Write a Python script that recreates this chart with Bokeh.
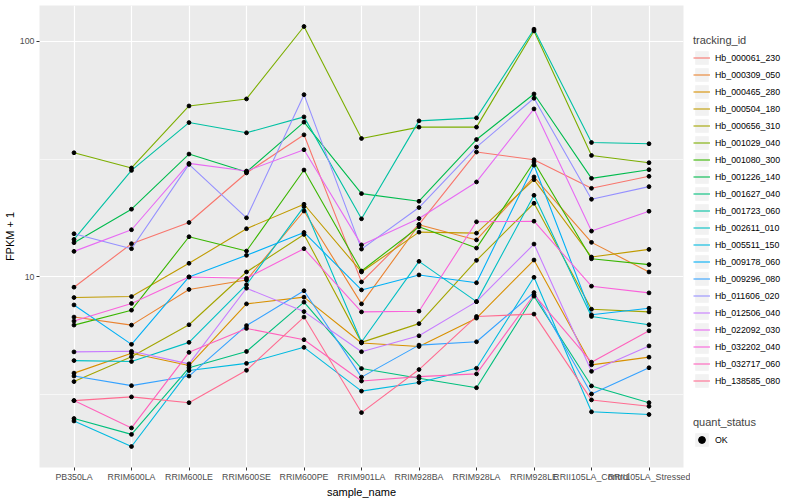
import numpy as np
from bokeh.plotting import figure
from bokeh.layouts import row
from bokeh.models import (ColumnDataSource, FactorRange, Range1d, FixedTicker,
                          Legend, LegendItem)
from bokeh.embed import file_html
from bokeh.resources import INLINE

samples = ["PB350LA", "RRIM600LA", "RRIM600LE", "RRIM600SE", "RRIM600PE",
           "RRIM901LA", "RRIM928BA", "RRIM928LA", "RRIM928LE",
           "RRII105LA_Control", "RRII105LA_Stressed"]

tracking_ids = ["Hb_000061_230", "Hb_000309_050", "Hb_000465_280", "Hb_000504_180",
                "Hb_000656_310", "Hb_001029_040", "Hb_001080_300", "Hb_001226_140",
                "Hb_001627_040", "Hb_001723_060", "Hb_002611_010", "Hb_005511_150",
                "Hb_009178_060", "Hb_009296_080", "Hb_011606_020", "Hb_012506_040",
                "Hb_022092_030", "Hb_032202_040", "Hb_032717_060", "Hb_138585_080"]

# FPKM + 1 per sample
hb_000061_230 = [9.05, 13.84, 17.02, 27.61, 40.07, 9.53, 16.70, 33.87, 31.42, 23.77, 26.72]
hb_000309_050 = [6.76, 6.25, 8.85, 9.71, 19.04, 7.69, 16.65, 14.36, 26.56, 14.02, 10.50]
hb_000465_280 = [3.91, 4.75, 4.21, 7.69, 8.21, 5.25, 5.07, 6.69, 11.80, 4.24, 4.57]
hb_000504_180 = [8.18, 8.26, 11.43, 16.02, 20.34, 10.50, 15.49, 15.34, 25.87, 12.15, 13.09]
hb_000656_310 = [3.60, 4.59, 6.27, 10.50, 15.15, 5.28, 6.34, 11.76, 20.54, 7.30, 7.11]
hb_001029_040 = [33.63, 28.99, 53.12, 56.89, 115.4, 38.66, 43.19, 43.19, 110.5, 32.76, 30.51]
hb_001080_300 = [6.25, 7.23, 14.81, 12.88, 28.42, 10.60, 16.33, 13.26, 30.73, 11.94, 11.28]
hb_001226_140 = [13.98, 19.38, 33.21, 27.87, 45.35, 22.57, 20.95, 38.28, 59.72, 26.20, 28.51]
hb_001627_040 = [2.51, 2.15, 4.12, 4.83, 7.82, 4.09, 3.72, 3.39, 8.29, 3.45, 2.93]
hb_001723_060 = [14.43, 28.31, 45.17, 40.87, 47.74, 17.65, 45.92, 47.28, 112.4, 37.18, 36.72]
hb_002611_010 = [4.42, 4.38, 5.28, 9.27, 19.89, 5.30, 11.65, 7.86, 22.20, 6.80, 6.27]
hb_005511_150 = [2.45, 1.91, 4.01, 4.30, 5.03, 3.28, 3.57, 4.10, 9.97, 2.68, 2.61]
hb_009178_060 = [7.61, 5.18, 10.00, 12.35, 15.45, 8.81, 10.20, 9.45, 29.79, 6.91, 7.37]
hb_009296_080 = [3.80, 3.46, 3.80, 6.22, 8.74, 3.76, 5.14, 5.31, 8.59, 3.19, 4.12]
hb_011606_020 = [15.25, 13.18, 30.02, 17.82, 59.31, 13.13, 19.70, 35.56, 57.27, 21.36, 24.16]
hb_012506_040 = [4.81, 4.84, 4.28, 8.96, 7.13, 4.82, 5.63, 7.86, 13.79, 3.98, 5.10]
hb_022092_030 = [12.84, 15.86, 30.31, 28.14, 34.63, 13.68, 17.70, 25.29, 51.60, 15.65, 19.00]
hb_032202_040 = [6.50, 7.72, 10.00, 9.87, 13.18, 7.11, 7.16, 17.14, 17.24, 9.14, 8.56]
hb_032717_060 = [2.99, 2.29, 4.79, 6.05, 5.42, 3.62, 3.78, 3.88, 8.41, 4.35, 5.91]
hb_138585_080 = [2.99, 3.10, 2.93, 4.02, 6.76, 2.66, 4.05, 6.80, 6.96, 3.01, 2.83]

series = [hb_000061_230, hb_000309_050, hb_000465_280, hb_000504_180, hb_000656_310,
          hb_001029_040, hb_001080_300, hb_001226_140, hb_001627_040, hb_001723_060,
          hb_002611_010, hb_005511_150, hb_009178_060, hb_009296_080, hb_011606_020,
          hb_012506_040, hb_022092_030, hb_032202_040, hb_032717_060, hb_138585_080]

colors = ["#F8766D", "#EA8331", "#D89000", "#C09B00", "#A3A500", "#7CAE00", "#39B600",
          "#00BB4E", "#00BF7D", "#00C1A3", "#00BFC4", "#00BAE0", "#00B0F6", "#35A2FF",
          "#9590FF", "#C77CFF", "#E76BF3", "#FA62DB", "#FF62BC", "#FF6C91"]

quant_status = "OK"

FONT = "Liberation Sans"
H = 500

allv = np.concatenate([np.array(s) for s in series])
llo, lhi = np.log10(allv.min()), np.log10(allv.max())
pad = 0.05 * (lhi - llo)

p = figure(width=690, height=H,
           x_range=FactorRange(factors=samples, range_padding=0.1,
                               range_padding_units="absolute"),
           y_range=Range1d(10 ** (llo - pad), 10 ** (lhi + pad)),
           y_axis_type="log", output_backend="svg", toolbar_location=None,
           min_border_left=33, min_border_right=7, min_border_top=5,
           min_border_bottom=32)

p.background_fill_color = "#EBEBEB"
p.border_fill_color = "white"
p.outline_line_color = None

yt = FixedTicker(ticks=[10, 100], minor_ticks=[10 ** 0.5, 10 ** 1.5])
p.yaxis.ticker = yt
p.ygrid.ticker = yt
p.yaxis.major_label_overrides = {10: "10", 100: "100"}

for g in (p.xgrid, p.ygrid):
    g.grid_line_color = "white"
    g.grid_line_width = 1.2
p.ygrid.minor_grid_line_color = "white"
p.ygrid.minor_grid_line_width = 0.6

for ax in (p.xaxis, p.yaxis):
    ax.axis_line_color = None
    ax.major_tick_line_color = "#333333"
    ax.major_tick_in = 0
    ax.major_tick_out = 3
    ax.minor_tick_line_color = None
    ax.major_label_text_font = FONT
    ax.major_label_text_font_size = "8.8px"
    ax.major_label_text_color = "#4D4D4D"
    ax.major_label_standoff = 1
    ax.axis_label_text_font = FONT
    ax.axis_label_text_font_size = "11px"
    ax.axis_label_text_font_style = "normal"
    ax.axis_label_text_color = "black"
    ax.axis_label_standoff = 1

p.xaxis.axis_label = "sample_name"
p.yaxis.axis_label = "FPKM + 1"

sources = []
for vals, col in zip(series, colors):
    src = ColumnDataSource(dict(x=samples, y=vals))
    sources.append(src)
    p.line("x", "y", source=src, line_color=col, line_width=1.1)

for src in sources:
    p.scatter("x", "y", source=src, marker="circle", size=3.8,
              fill_color="black", line_color="black")

# legend panel (its own canvas so nothing is clipped)
lf = figure(width=94, height=H, x_range=FactorRange(factors=samples),
            y_range=Range1d(0, 1), output_backend="svg", toolbar_location=None,
            min_border=0, x_axis_location=None, y_axis_location=None)
lf.outline_line_color = None
lf.grid.visible = False
lf.background_fill_color = "white"
lf.border_fill_color = "white"

items = []
for tid, src, col in zip(tracking_ids, sources, colors):
    key = lf.rect("x", "y", width=0, height=0, source=src,
                  fill_color="#F2F2F2", line_color=None, visible=False)
    ln = lf.line("x", "y", source=src, line_color=col, line_width=1.1, visible=False)
    items.append(LegendItem(label=tid, renderers=[key, ln]))

key0 = lf.rect("x", "y", width=0, height=0, source=sources[0],
               fill_color="#F2F2F2", line_color=None, visible=False)
pt0 = lf.scatter("x", "y", source=sources[0], marker="circle", size=3.8,
                 fill_color="black", line_color="black", visible=False)


def style_legend(lg):
    lg.glyph_width = 17
    lg.glyph_height = 17
    lg.label_height = 17
    lg.spacing = 0
    lg.padding = 0
    lg.margin = 0
    lg.border_line_color = None
    lg.background_fill_alpha = 0
    lg.inactive_fill_alpha = 0
    lg.label_standoff = 5
    lg.label_text_font = FONT
    lg.label_text_font_size = "8.8px"
    lg.label_text_color = "black"
    lg.title_text_font = FONT
    lg.title_text_font_size = "11px"
    lg.title_text_font_style = "normal"
    lg.title_standoff = 3


leg1 = Legend(items=items, title="tracking_id", location=(3, 78))
style_legend(leg1)
leg2 = Legend(items=[LegendItem(label=quant_status, renderers=[key0, pt0])],
              title="quant_status", location=(3, 19))
style_legend(leg2)
lf.add_layout(leg1, "center")
lf.add_layout(leg2, "center")

layout = row(p, lf)
open("out.html", "w").write(file_html(layout, INLINE))
